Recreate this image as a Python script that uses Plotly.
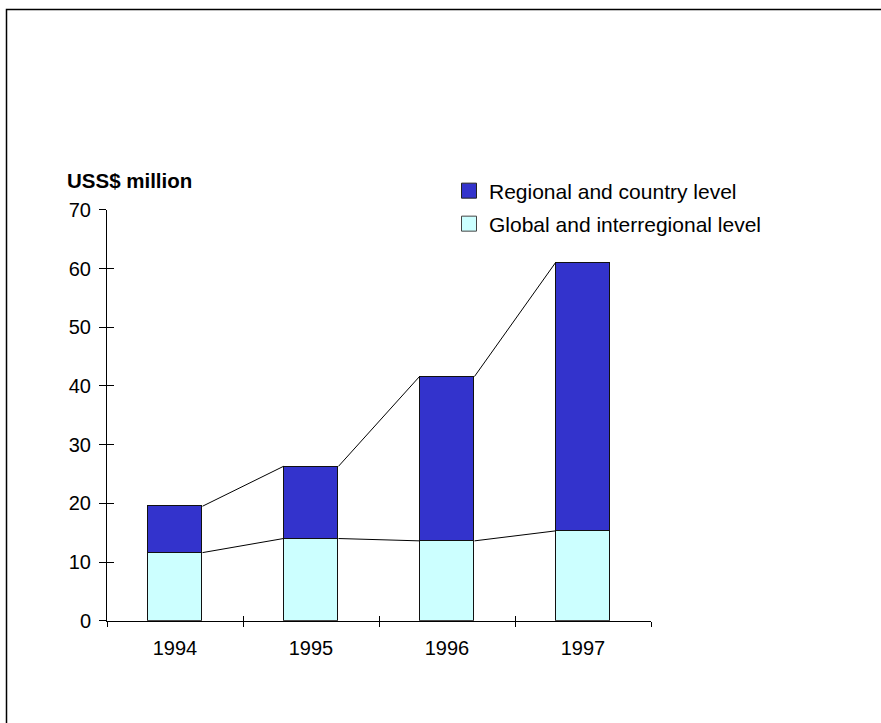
import plotly.graph_objects as go

# Programme expenditure by level, US$ million
years = ["1994", "1995", "1996", "1997"]
global_level = [11.6, 14.0, 13.6, 15.3]
regional_level = [7.9, 12.3, 28.0, 45.7]
y_ticks = [0, 10, 20, 30, 40, 50, 60, 70]

W, H = 881, 723
FONT = "Arial, Liberation Sans, sans-serif"
DARK = "#3333CC"
LIGHT = "#CCFFFF"
BAR_W = 0.404

xs = list(range(len(years)))
totals = [g + r for g, r in zip(global_level, regional_level)]


def connectors(levels):
    """Line segments joining the top corners of neighbouring bars."""
    cx, cy = [], []
    for i in range(len(levels) - 1):
        cx += [xs[i] + BAR_W / 2, xs[i + 1] - BAR_W / 2, None]
        cy += [levels[i], levels[i + 1], None]
    return cx, cy


fig = go.Figure()

fig.add_trace(go.Bar(
    x=xs, y=global_level, width=BAR_W, showlegend=False,
    marker=dict(color=LIGHT, line=dict(color="#111", width=1.3)),
))
fig.add_trace(go.Bar(
    x=xs, y=regional_level, width=BAR_W, showlegend=False,
    marker=dict(color=DARK, line=dict(color="#111", width=1.3)),
))

for lv in (global_level, totals):
    cx, cy = connectors(lv)
    fig.add_trace(go.Scatter(
        x=cx, y=cy, mode="lines", showlegend=False, hoverinfo="skip",
        line=dict(color="black", width=1),
    ))

# empty traces so the tick-only overlay axes get drawn
for xa, ya in (("x2", "y"), ("x3", "y"), ("x", "y2")):
    fig.add_trace(go.Scatter(
        x=[None], y=[None], xaxis=xa, yaxis=ya, mode="markers",
        showlegend=False, hoverinfo="skip",
    ))

# legend entries
fig.add_trace(go.Scatter(
    x=[None], y=[None], mode="markers", name="Regional and country level",
    marker=dict(symbol="square", size=15, color=DARK, line=dict(color="#222", width=1)),
    legend="legend",
))
fig.add_trace(go.Scatter(
    x=[None], y=[None], mode="markers", name="Global and interregional level",
    marker=dict(symbol="square", size=15, color=LIGHT, line=dict(color="#444", width=1)),
    legend="legend2",
))

xdom = [107 / W, 651 / W]
ydom = [1 - 620.7 / H, 1 - 209.8 / H]
xr = [-0.5, len(years) - 0.5]
bounds = [i - 0.5 for i in range(len(years) + 1)]

tick_only = dict(
    showticklabels=False, showline=False, showgrid=False, zeroline=False,
    tickcolor="black", tickwidth=1, automargin=False, fixedrange=True,
)

fig.update_layout(
    width=W, height=H, autosize=False,
    margin=dict(l=0, r=0, t=0, b=0, pad=0, autoexpand=False),
    paper_bgcolor="white", plot_bgcolor="white",
    barmode="stack", bargap=0,
    font=dict(family=FONT, size=20, color="black"),
    xaxis=dict(
        domain=xdom, range=xr, anchor="y",
        tickmode="array", tickvals=xs, ticktext=years,
        ticks="", showline=True, linecolor="black", linewidth=1,
        showgrid=False, zeroline=False, ticklabelstandoff=9,
        automargin=False, fixedrange=True,
    ),
    xaxis2=dict(
        overlaying="x", domain=xdom, range=xr, anchor="y", side="bottom",
        tickmode="array", tickvals=bounds, ticks="outside", ticklen=5,
        **tick_only,
    ),
    xaxis3=dict(
        overlaying="x", domain=xdom, range=xr, anchor="y", side="bottom",
        tickmode="array", tickvals=bounds, ticks="inside", ticklen=5,
        **tick_only,
    ),
    yaxis=dict(
        domain=ydom, range=[0, 70], anchor="x",
        tickmode="array", tickvals=y_ticks,
        ticks="outside", ticklen=7, tickcolor="black", tickwidth=1,
        showline=True, linecolor="black", linewidth=1,
        showgrid=False, zeroline=False, ticklabelstandoff=4,
        automargin=False, fixedrange=True,
    ),
    yaxis2=dict(
        overlaying="y", domain=ydom, range=[0, 70], anchor="x", side="left",
        tickmode="array", tickvals=y_ticks,
        ticks="inside", ticklen=7,
        **tick_only,
    ),
    legend=dict(
        x=449 / W, y=1 - 191 / H, xanchor="left", yanchor="middle",
        bgcolor="rgba(0,0,0,0)", font=dict(size=21),
    ),
    legend2=dict(
        x=449 / W, y=1 - 224 / H, xanchor="left", yanchor="middle",
        bgcolor="rgba(0,0,0,0)", font=dict(size=21),
    ),
    annotations=[dict(
        text="<b>USS$ million</b>", xref="paper", yref="paper",
        x=65 / W, y=1 - 180 / H, xanchor="left", yanchor="middle",
        showarrow=False, font=dict(size=20.5),
    )],
    shapes=[dict(
        type="rect", xref="paper", yref="paper",
        x0=6.5 / W, y0=1 - 9.5 / H, x1=1.05, y1=-0.05,
        line=dict(color="black", width=1.5),
    )],
)

fig.write_html("out.html")
